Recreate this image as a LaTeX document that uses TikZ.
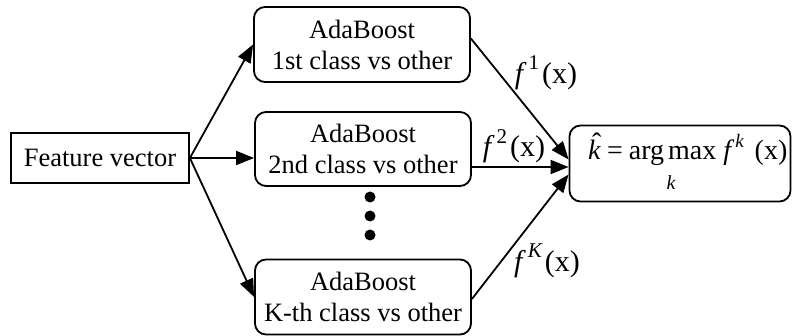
\documentclass[tikz,border=0pt]{standalone}
\usepackage{fontspec}
\setmainfont{Liberation Serif}
\usetikzlibrary{arrows.meta,calc}

% f^i(x) label written in text mode
\newcommand{\fofx}[1]{\textit{f}\kern2pt\raisebox{0.45em}{\fontsize{21}{21}\selectfont #1}\kern3pt(x)}
% italic k with a circumflex on top
\newcommand{\khat}{\rlap{\kern4pt\raisebox{7pt}{ˆ}}\textit{k}}

\begin{document}
\begin{tikzpicture}[x=1pt,y=-1pt,
  box/.style={draw,line width=1.8pt,rounded corners=11pt,align=center,
    font=\fontsize{26.5}{31}\selectfont,inner sep=0pt},
  plainbox/.style={draw,line width=1.8pt,font=\fontsize{26.5}{31}\selectfont,inner sep=0pt},
  link/.style={line width=1.8pt,-{Triangle[length=18pt,width=14pt]}},
  flabel/.style={font=\fontsize{30}{30}\selectfont,inner sep=0pt},
  dot/.style={circle,fill=black,inner sep=0pt,minimum size=11pt}]

\useasboundingbox (0,0) rectangle (794,336);

% input and the K one-vs-rest classifiers
\node[plainbox,minimum width=178pt,minimum height=50pt] (fv) at (100,158) {Feature vector};
\node[box,minimum width=216pt,minimum height=75pt] (b1) at (362,44.5) {AdaBoost\\1st class vs other};
\node[box,minimum width=216pt,minimum height=74pt] (b2) at (363,149) {AdaBoost\\2nd class vs other};
\node[box,minimum width=216pt,minimum height=75pt] (bK) at (363,297) {AdaBoost\\K-th class vs other};

% decision box
\node[box,minimum width=221pt,minimum height=76pt] (out) at (680,163.5) {};
\node[font=\fontsize{28}{28}\selectfont,inner sep=0pt,anchor=base west] (eq) at (588,160)
  {\khat\kern6pt=\kern6pt arg\kern4pt max\kern7pt\textit{f}\kern1pt\raisebox{0.45em}{\fontsize{19}{19}\selectfont\itshape k}\kern11pt(x)};
\node[font=\fontsize{20}{20}\selectfont\itshape,inner sep=0pt,anchor=base] (sub) at (671,190) {k};

% vertical ellipsis
\node[dot] (d1) at (370,197) {};
\node[dot] (d2) at (370,216) {};
\node[dot] (d3) at (370,235) {};

% connectors
\draw[link] (fv.east) -- (b1.west);
\draw[link] (fv.east) -- (b2.west |- fv.east);
\draw[link] (fv.east) -- (bK.west);

\draw[link] ($(b1.east)+(0,-6)$) -- ($(out.west)+(0,-4)$);
\draw[link] (b2.east |- 0,167) -- (out.west |- 0,167);
\draw[link] ($(bK.east)+(0,2)$) -- ($(out.west)+(0,11)$);

% classifier outputs
\node[flabel] (l1) at (546,73) {\fofx{1}};
\node[flabel] (l2) at (514,146) {\fofx{2}};
\node[flabel] (lK) at (547,261) {\fofx{\itshape K}};
\end{tikzpicture}
\end{document}
